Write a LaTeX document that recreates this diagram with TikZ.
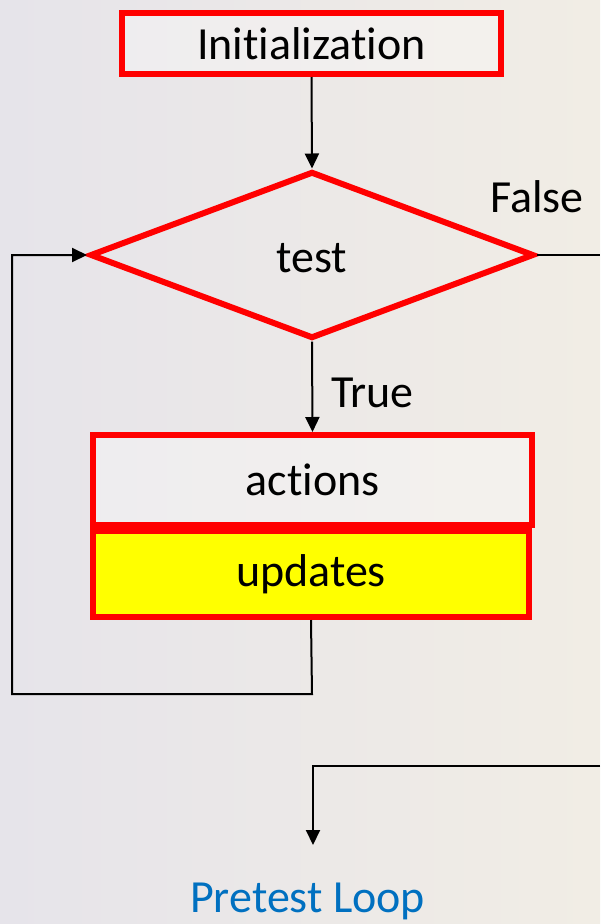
\documentclass[tikz,border=0pt]{standalone}
\usepackage{fontspec}
\setmainfont[RawFeature={-liga;-clig;-dlig}]{Carlito}
\usetikzlibrary{shapes.geometric,arrows.meta}
\definecolor{bgL}{RGB}{230,228,234}
\definecolor{bgR}{RGB}{241,237,229}
\definecolor{boxred}{RGB}{255,0,0}
\definecolor{loopblue}{RGB}{0,112,192}
\definecolor{updyellow}{RGB}{255,255,0}
\begin{document}
\begin{tikzpicture}[x=1pt,y=-1pt,
  every node/.style={font=\fontsize{46}{52}\selectfont},
  redbox/.style={draw=boxred,line width=6pt,rectangle,inner sep=0pt},
  conn/.style={draw=black,line width=2pt},
  arr/.style={conn,-{Triangle[length=15pt,width=14pt]}},
  lbl/.style={inner sep=0pt}]
\shade[left color=bgL,right color=bgR] (0,0) rectangle (600,924);
\useasboundingbox (0,0) rectangle (600,924);

\node[redbox,fill=white,fill opacity=0.3,text opacity=1,minimum width=379pt,minimum height=61pt] (init) at (311.5,43.5) {Init\kern0pt ializat\kern0pt ion};
\node[draw=boxred,line width=6pt,shape=diamond,inner sep=0pt,minimum width=444pt,minimum height=167pt] (test) at (312,255) {};
\node[lbl] (testlbl) at (312,258) {test};
\node[redbox,fill=white,fill opacity=0.3,text opacity=1,minimum width=439pt,minimum height=90pt] (actions) at (312.5,480) {\raisebox{-2pt}{actions}};
\node[redbox,fill=updyellow,minimum width=436pt,minimum height=86pt] (updates) at (311,574) {\raisebox{-4pt}{updates}};

\node[lbl,anchor=base west] (false) at (490,212) {False};
\node[lbl,anchor=base west] (true) at (331,407) {True};
\node[lbl,anchor=base west,text=loopblue] (title) at (190,912) {Pretest Loop};

\coordinate (loopA) at (312,694);
\coordinate (loopB) at (12,694);
\coordinate (loopC) at (12,255);
\coordinate (exitR) at (600,255);
\coordinate (backR) at (600,766);
\coordinate (backL) at (313,766);
\coordinate (endP) at (313,845);

\draw[arr] (init.south) -- (test.north);
\draw[arr] (test.south) -- (actions.north);
\draw[arr] (updates.south) -- (loopA) -- (loopB) -- (loopC) -- (test.west);
\draw[conn] (test.east) -- (exitR);
\draw[arr] (backR) -- (backL) -- (endP);
\end{tikzpicture}
\end{document}
